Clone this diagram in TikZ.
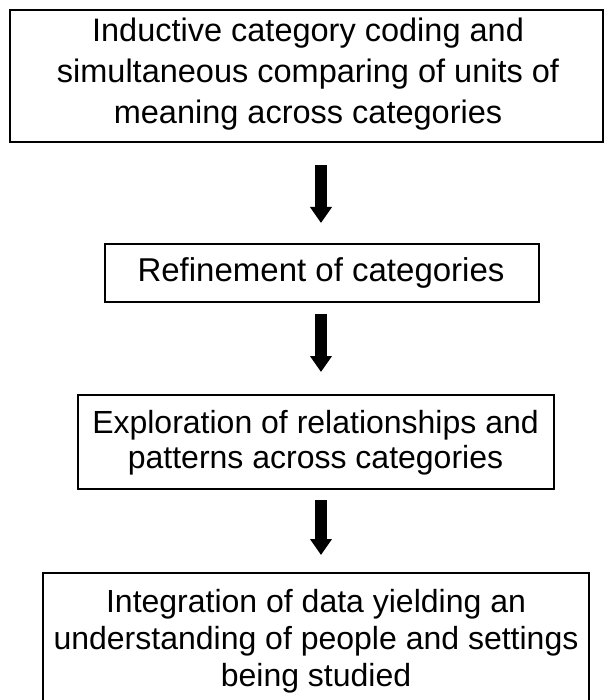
\documentclass[tikz,border=0pt]{standalone}
\usepackage{fontspec}
\setmainfont{Liberation Sans}
\usetikzlibrary{arrows.meta}
\begin{document}
\begin{tikzpicture}[x=1pt,y=-1pt,
  boxframe/.style={draw=black, line width=2pt, rectangle, inner sep=0pt},
  boxtext/.style={inner sep=0pt, align=center, font=\fontsize{32}{37}\selectfont},
  flowarrow/.style={line width=12pt, -{Triangle[width=21pt,length=16pt]}}]
\useasboundingbox (0,0) rectangle (604,700);
\clip (0,0) rectangle (604,700);
% boxes
\node[boxframe, minimum width=593pt, minimum height=132pt] (b1) at (306.5,76) {};
\node[boxframe, minimum width=434pt, minimum height=58pt] (b2) at (322,273) {};
\node[boxframe, minimum width=476pt, minimum height=94pt] (b3) at (315.5,442) {};
\node[boxframe, minimum width=546pt, minimum height=150pt] (b4) at (316,648) {};
% texts
\node[boxtext, font=\fontsize{32.5}{41}\selectfont] (t1) at (308,74) {Inductive category coding and\\simultaneous comparing of units of\\meaning across categories};
\node[boxtext, font=\fontsize{33}{38}\selectfont] (t2) at (321,273) {Refinement of categories};
\node[boxtext, font=\fontsize{32}{35}\selectfont] (t3) at (315.5,443) {Exploration of relationships and\\patterns across categories};
\node[boxtext] (t4) at (316,641.5) {Integration of data yielding an\\understanding of people and settings\\being studied};
% arrows
\draw[flowarrow, shorten <=23pt, shorten >=21pt] (321,142) -- (321,244);
\draw[flowarrow, shorten <=12pt, shorten >=23pt] (321,302) -- (321,395);
\draw[flowarrow, shorten <=11pt, shorten >=18pt] (321,489) -- (321,573);
\end{tikzpicture}
\end{document}
